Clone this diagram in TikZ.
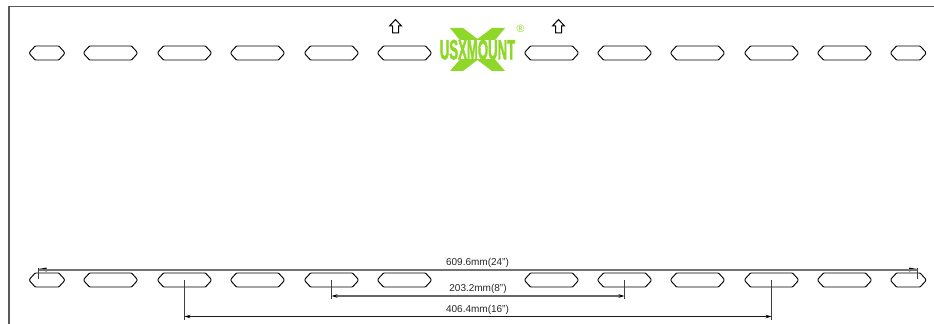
\documentclass[tikz,border=0pt]{standalone}
\usepackage{fontspec}
\setmainfont{Liberation Sans}
\newfontfamily\logofont[FakeBold=2.5]{Liberation Sans Bold}
\usetikzlibrary{arrows.meta,calc}
\definecolor{logogreen}{HTML}{8FD82A}
\tikzset{
  x=0.75pt,y=-0.75pt,
  slotline/.style={draw=black,line width=0.7pt,fill=white,rounded corners=0.5pt},
  anchorpt/.style={inner sep=0pt,outer sep=0pt,minimum size=0pt},
  framel/.style={draw=black!65,line width=0.9pt},
  topdim/.style={draw=black!55,line width=0.95pt},
  extl/.style={draw=black!75,line width=0.6pt},
  tipshape/.style={draw=none,fill=black},
  dimeight/.style={draw=black!60,line width=0.8pt,{Stealth[length=4.5pt,width=2.6pt,black]}-{Stealth[length=4.5pt,width=2.6pt,black]}},
  dimsixteen/.style={draw=black!90,line width=0.55pt,{Stealth[length=4.5pt,width=2.6pt,black]}-{Stealth[length=4.5pt,width=2.6pt,black]}},
  dimtext/.style={font=\fontsize{7.5pt}{9pt}\selectfont,text=black!85,inner sep=0pt},
  uparrow/.style={draw=black,line width=0.75pt,line join=miter,fill=white},
}
% #1 name, #2 centre x, #3 centre y, #4 half width
\newcommand{\slotat}[4]{%
  \node[anchorpt] (#1) at (#2,#3) {};
  \draw[slotline] ($(#2,#3)+(-#4,-1)$) -- ++(5.5,-6) -- ($(#2,#3)+(#4-5.5,-7)$) -- ++(5.5,6) -- ++(0,2) -- ++(-5.5,6) -- ($(#2,#3)+(-#4+5.5,7)$) -- ++(-5.5,-6) -- cycle;
}
\begin{document}
\begin{tikzpicture}
\useasboundingbox (0,0) rectangle (934,324);
\fill[white] (0,0) rectangle (934,324);
% frame
\coordinate (fa) at (9,324);
\coordinate (fb) at (9,6.5);
\coordinate (fc) at (934,6.5);
\draw[framel] (fa) -- (fb) -- (fc);
% slots, top row
\slotat{s1t}{47}{53}{17.3}
\slotat{s2t}{110.5}{53}{26.5}
\slotat{s3t}{184.5}{53}{26.5}
\slotat{s4t}{257.5}{53}{26.5}
\slotat{s5t}{331.5}{53}{26.5}
\slotat{s6t}{404.5}{53}{26.5}
\slotat{s7t}{551.5}{53}{26.5}
\slotat{s8t}{624.5}{53}{26.5}
\slotat{s9t}{697.5}{53}{26.5}
\slotat{s10t}{771.5}{53}{26.5}
\slotat{s11t}{844.5}{53}{26.5}
\slotat{s12t}{908.3}{53}{17.3}
% slots, bottom row
\slotat{s1b}{47}{280}{17.3}
\slotat{s2b}{110.5}{280}{26.5}
\slotat{s3b}{184.5}{280}{26.5}
\slotat{s4b}{257.5}{280}{26.5}
\slotat{s5b}{331.5}{280}{26.5}
\slotat{s6b}{404.5}{280}{26.5}
\slotat{s7b}{551.5}{280}{26.5}
\slotat{s8b}{624.5}{280}{26.5}
\slotat{s9b}{697.5}{280}{26.5}
\slotat{s10b}{771.5}{280}{26.5}
\slotat{s11b}{844.5}{280}{26.5}
\slotat{s12b}{908.3}{280}{17.3}
% up arrows
\draw[uparrow] (392.5,33) -- (392.5,26) -- (389.5,26) -- (395.5,19.5) -- (401.5,26) -- (398.5,26) -- (398.5,33) -- cycle;
\draw[uparrow] (555.5,33) -- (555.5,26) -- (552.5,26) -- (558.5,19.5) -- (564.5,26) -- (561.5,26) -- (561.5,33) -- cycle;
% logo
\fill[logogreen] (450,28) -- (463,28) -- (477.5,39) -- (492,28) -- (505,28) -- (487,50) -- (505,71) -- (492,71) -- (477.5,60) -- (463,71) -- (450,71) -- (468,50) -- cycle;
\fill[white] (440,40) rectangle (515,59.5);
\node[inner sep=0pt,text=logogreen] (logo) at (477.5,49.7) {\resizebox{56.5pt}{14.6pt}{\logofont USXMOUNT}};
\node[inner sep=0pt,text=logogreen,font=\fontsize{8pt}{9pt}\selectfont] (reg) at (520.5,28.5) {®};
% dimension 24in
\coordinate (d24a) at (38.5,270);
\coordinate (d24b) at (917,270);
\coordinate (t24a) at (38.5,279);
\coordinate (t24b) at (917,279);
\coordinate (t24c) at (38.5,268);
\coordinate (t24d) at (917,268);
\fill[tipshape] (38.5,269) -- (46.5,267.6) -- (46.5,271.5) -- cycle;
\fill[tipshape] (917,269) -- (909,267.6) -- (909,271.5) -- cycle;
\draw[topdim] (d24a) -- (d24b);
\draw[extl] (t24c) -- (t24a);
\draw[extl] (t24d) -- (t24b);
\node[dimtext] (l24) at (477.5,262.5) {609.6mm(24")};
% dimension 8in
\coordinate (d8a) at (331.5,296);
\coordinate (d8b) at (624.5,296);
\coordinate (t8a) at (331.5,299);
\coordinate (t8b) at (624.5,299);
\draw[extl] (s5b.center) -- (t8a);
\draw[extl] (s8b.center) -- (t8b);
\draw[dimeight] (d8a) -- (d8b);
\node[dimtext] (l8) at (478,288.5) {203.2mm(8")};
% dimension 16in
\coordinate (d16a) at (184.5,316.5);
\coordinate (d16b) at (771.5,316.5);
\coordinate (t16a) at (184.5,320);
\coordinate (t16b) at (771.5,320);
\draw[extl] (s3b.center) -- (t16a);
\draw[extl] (s10b.center) -- (t16b);
\draw[dimsixteen] (d16a) -- (d16b);
\node[dimtext] (l16) at (477.5,309.5) {406.4mm(16")};
\end{tikzpicture}
\end{document}
